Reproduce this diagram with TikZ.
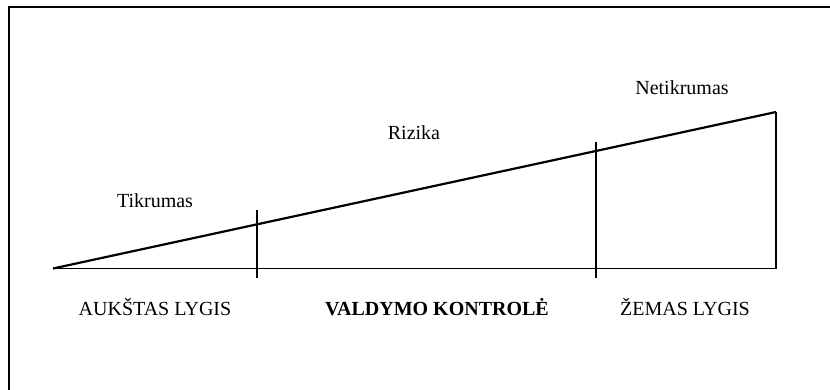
\documentclass[tikz,border=0pt]{standalone}
\usepackage{fontspec}
\setmainfont{Liberation Serif}
\begin{document}
\begin{tikzpicture}[x=1pt,y=-1pt,
  lbl/.style={font=\fontsize{20}{24}\selectfont, inner sep=0pt},
  thin line/.style={line width=1.4pt},
  base line/.style={line width=1.8pt},
  thick line/.style={line width=2.2pt}]
\useasboundingbox (0,0) rectangle (830,389);
% frame (only top and left edges visible)
\coordinate (fl) at (9,391);
\coordinate (ft) at (9,7);
\coordinate (fr) at (832,7);
\draw[thick line] (fl) -- (ft) -- (fr);
% triangle
\coordinate (o) at (53,268.5);
\coordinate (b) at (776,268.5);
\coordinate (t) at (776,112);
\draw[thick line] (o) -- (t);
\draw[base line] (o) -- (b) -- (t);
% dividers
\coordinate (v1t) at (257,210);
\coordinate (v1b) at (257,278);
\coordinate (v2t) at (596,142);
\coordinate (v2b) at (596,278);
\draw[thin line] (v1t) -- (v1b);
\draw[thin line] (v2t) -- (v2b);
% labels
\node[lbl] (tik) at (155,201) {Tikrumas};
\node[lbl] (riz) at (414,133) {Rizika};
\node[lbl] (net) at (682,88) {Netikrumas};
\node[lbl] (auk) at (155,307) {AUKŠTAS LYGIS};
\node[lbl,font=\fontsize{20}{24}\selectfont\bfseries] (val) at (437,307) {VALDYMO KONTROLĖ};
\node[lbl] (zem) at (685,307) {ŽEMAS LYGIS};
\end{tikzpicture}
\end{document}
